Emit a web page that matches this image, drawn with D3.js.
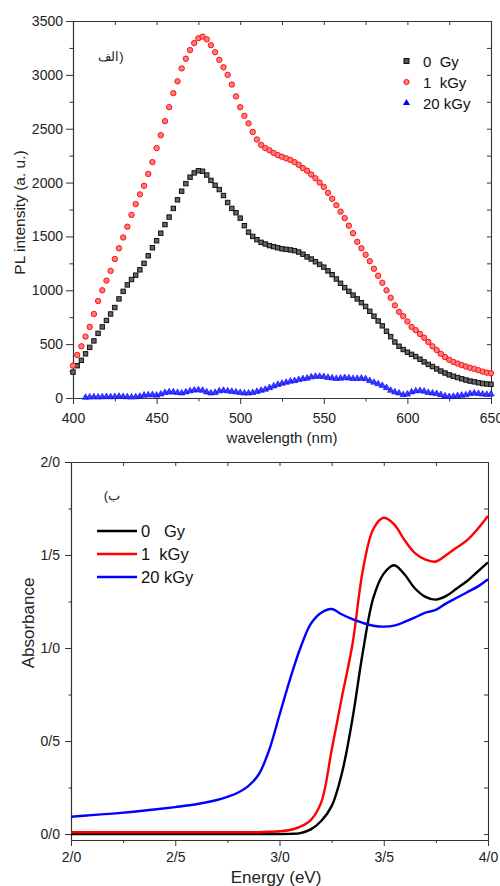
<!DOCTYPE html>
<html><head><meta charset="utf-8">
<script src="https://cdn.jsdelivr.net/npm/d3@7"></script>
<style>
body{margin:0;background:#fff}
text{font-family:Arial,"Liberation Sans",sans-serif}
</style>
</head><body>
<svg id="c" width="500" height="886"></svg>
<script>
// ---------- Chart (a): PL spectra ----------
const wavelengths = d3.range(400, 650.01, 2.5);
const pl0Gy = [
 240,300,350,410,470,530,600,660,720,780,
 840,920,990,1050,1100,1140,1190,1250,1320,1395,
 1460,1530,1610,1680,1760,1840,1920,1990,2050,2090,
 2110,2105,2070,2020,1975,1935,1880,1815,1760,1720,
 1670,1600,1540,1500,1470,1445,1430,1415,1405,1395,
 1385,1380,1375,1368,1355,1335,1310,1290,1265,1240,
 1215,1180,1145,1105,1065,1025,990,955,920,885,
 850,805,760,715,670,620,570,520,480,450,
 425,405,385,360,335,312,292,270,250,232,
 215,202,190,178,167,157,150,142,135,130,
 127];
const pl1kGy = [
 300,400,480,570,660,780,900,1000,1090,1180,
 1290,1390,1490,1590,1700,1800,1890,1970,2080,2190,
 2320,2440,2570,2700,2830,2940,3060,3150,3230,3295,
 3340,3355,3330,3275,3210,3140,3070,3000,2910,2800,
 2700,2620,2550,2470,2400,2350,2320,2300,2275,2255,
 2240,2225,2210,2190,2165,2135,2110,2075,2040,2000,
 1960,1905,1850,1790,1730,1670,1600,1530,1450,1390,
 1330,1270,1200,1135,1070,1000,930,860,800,760,
 710,660,630,595,560,520,480,445,410,380,
 355,335,320,305,292,280,270,258,245,235,
 230];
const pl20kGy = [
 null,null,null,5,8,10,8,10,12,10,
 12,15,12,10,8,10,15,25,28,30,
 25,35,50,55,55,50,45,55,65,72,
 75,70,55,45,50,65,70,65,60,55,
 50,45,45,50,60,70,80,95,110,125,
 135,145,155,160,170,178,183,195,200,200,
 198,190,185,180,183,188,185,180,180,183,
 178,160,145,130,115,95,70,55,45,30,
 35,55,65,68,62,50,45,40,30,18,
 12,15,20,25,28,40,45,40,35,32,
 35];
const plXTicks = [400,450,500,550,600,650];
const plYTicks = [0,500,1000,1500,2000,2500,3000,3500];
const plLegend = ["0  Gy","1  kGy","20 kGy"];

// ---------- Chart (b): absorbance ----------
const energy = [2.0,2.1,2.2,2.3,2.4,2.5,2.6,2.7,2.75,2.8,2.85,2.9,2.95,3.0,3.05,3.1,3.15,3.2,3.25,3.3,3.35,3.4,3.45,3.5,3.55,3.6,3.65,3.7,3.75,3.8,3.85,3.9,3.95,4.0];
const abs0Gy = [0,0,0,0,0,0,0,0,0,0,0,0,0,0,0.001,0.005,0.025,0.07,0.15,0.33,0.62,0.98,1.27,1.40,1.445,1.395,1.32,1.275,1.26,1.28,1.32,1.36,1.41,1.46];
const abs1kGy = [0.01,0.01,0.01,0.01,0.01,0.01,0.01,0.01,0.01,0.01,0.01,0.01,0.012,0.015,0.022,0.04,0.075,0.17,0.45,0.74,1.02,1.42,1.64,1.70,1.665,1.58,1.51,1.475,1.465,1.50,1.54,1.58,1.64,1.71];
const abs20kGy = [0.093,0.102,0.11,0.12,0.132,0.145,0.16,0.183,0.20,0.222,0.258,0.32,0.45,0.64,0.83,1.0,1.13,1.19,1.21,1.18,1.155,1.135,1.12,1.115,1.12,1.14,1.165,1.19,1.205,1.24,1.27,1.30,1.33,1.37];
const absXTicks = [2.0,2.5,3.0,3.5,4.0];
const absXTickLabels = ["2/0","2/5","3/0","3/5","4/0"];
const absYTicks = [0,0.5,1.0,1.5,2.0];
const absYTickLabels = ["0/0","0/5","1/0","1/5","2/0"];
const absLegend = ["0   Gy","1  kGy","20 kGy"];
const absColors = ["#000000","#ff0000","#0000ff"];

const svg = d3.select("#c");
const axisColor = "#333";

function styleAxis(g){
  g.selectAll("path.domain").attr("stroke", axisColor).attr("stroke-width",1.1);
  g.selectAll(".tick line").attr("stroke", axisColor).attr("stroke-width",1);
  g.selectAll(".tick text").attr("fill","#222").attr("font-size","14px")
    .attr("font-family","Arial, 'Liberation Sans', sans-serif");
}

// ===== Chart A =====
(function(){
  const L=73,R=491,T=21,B=398;
  const x = d3.scaleLinear().domain([400,650]).range([L,R]);
  const y = d3.scaleLinear().domain([0,3500]).range([B,T]);
  const g = svg.append("g");
  const fmt = d3.format("d");

  g.append("g").attr("transform",`translate(0,${B})`)
    .call(d3.axisBottom(x).tickValues(d3.range(425,650,50)).tickSize(3.5).tickFormat("").tickSizeOuter(0)).call(styleAxis);
  g.append("g").attr("transform",`translate(${L},0)`)
    .call(d3.axisLeft(y).tickValues(d3.range(250,3500,500)).tickSize(3.5).tickFormat("").tickSizeOuter(0)).call(styleAxis);
  g.append("g").attr("transform",`translate(0,${B})`)
    .call(d3.axisBottom(x).tickValues(plXTicks).tickFormat(fmt).tickSize(6).tickPadding(9).tickSizeOuter(0)).call(styleAxis);
  g.append("g").attr("transform",`translate(${L},0)`)
    .call(d3.axisLeft(y).tickValues(plYTicks).tickFormat(fmt).tickSize(7).tickPadding(3).tickSizeOuter(0)).call(styleAxis);
  g.append("g").attr("transform",`translate(0,${T})`)
    .call(d3.axisTop(x).tickValues(d3.range(400,651,25)).tickSize(-4).tickFormat("").tickSizeOuter(0)).call(styleAxis);
  g.append("g").attr("transform",`translate(${R},0)`)
    .call(d3.axisRight(y).tickValues(d3.range(0,3501,250)).tickSize(-4).tickFormat("").tickSizeOuter(0)).call(styleAxis);

  const pts = (arr)=> wavelengths.map((w,i)=>({w,v:arr[i]})).filter(d=>d.v!=null);

  g.append("g").selectAll("path").data(pts(pl20kGy)).join("path")
    .attr("d", d3.symbol(d3.symbolTriangle, 18))
    .attr("transform", d=>`translate(${x(d.w)},${y(d.v)})`)
    .attr("fill","#3a3aff").attr("stroke","#0000ff").attr("stroke-width",0.6);
  g.append("g").selectAll("rect").data(pts(pl0Gy)).join("rect")
    .attr("x", d=>x(d.w)-2.2).attr("y", d=>y(d.v)-2.2).attr("width",4.4).attr("height",4.4)
    .attr("fill","#666").attr("stroke","#111").attr("stroke-width",1);
  g.append("g").selectAll("circle").data(pts(pl1kGy)).join("circle")
    .attr("cx", d=>x(d.w)).attr("cy", d=>y(d.v)).attr("r",2.7)
    .attr("fill","#ff7a7a").attr("stroke","#ff1010").attr("stroke-width",1);

  const lg = g.append("g");
  const ly = [61,82,103];
  lg.append("rect").attr("x",404).attr("y",ly[0]-2.5).attr("width",5).attr("height",5).attr("fill","#555").attr("stroke","#111");
  lg.append("circle").attr("cx",406.5).attr("cy",ly[1]).attr("r",2.6).attr("fill","#ff8080").attr("stroke","#ff1010");
  lg.append("path").attr("d",d3.symbol(d3.symbolTriangle,22)).attr("transform",`translate(406.5,${ly[2]})`).attr("fill","#0000ff");
  plLegend.forEach((t,i)=>{
    lg.append("text").attr("x",423).attr("y",ly[i]+5.5).attr("font-size","15px")
      .style("white-space","pre").attr("fill","#111").text(t);
  });

  g.append("text").attr("x",111).attr("y",61).attr("text-anchor","middle")
    .attr("font-family","'DejaVu Sans', 'Noto Sans', sans-serif").attr("font-size","13px")
    .attr("fill","#222").text("\u200Eالف)\u200E");

  g.append("text").attr("transform",`translate(25,${(T+B)/2+3}) rotate(-90)`)
    .attr("text-anchor","middle").attr("font-size","15.5px").attr("fill","#222").text("PL intensity (a. u.)");
  g.append("text").attr("x",(L+R)/2).attr("y",443).attr("text-anchor","middle")
    .attr("font-size","15px").attr("fill","#222").text("wavelength (nm)");
})();

// ===== Chart B =====
(function(){
  const L=71,R=488,T=462,B=840;
  const x = d3.scaleLinear().domain([2,4]).range([L,R]);
  const y = d3.scaleLinear().domain([-0.032,2]).range([B,T]);
  const g = svg.append("g");

  g.append("g").attr("transform",`translate(0,${B})`)
    .call(d3.axisBottom(x).tickValues([2.25,2.75,3.25,3.75]).tickSize(3).tickFormat("").tickSizeOuter(0)).call(styleAxis);
  g.append("g").attr("transform",`translate(${L},0)`)
    .call(d3.axisLeft(y).tickValues([0.25,0.75,1.25,1.75]).tickSize(2.5).tickFormat("").tickSizeOuter(0)).call(styleAxis);
  g.append("g").attr("transform",`translate(0,${B})`)
    .call(d3.axisBottom(x).tickValues(absXTicks).tickSize(6).tickPadding(6).tickSizeOuter(0)
      .tickFormat((d,i)=>absXTickLabels[i])).call(styleAxis);
  g.append("g").attr("transform",`translate(${L},0)`)
    .call(d3.axisLeft(y).tickValues(absYTicks).tickSize(6).tickPadding(5).tickSizeOuter(0)
      .tickFormat((d,i)=>absYTickLabels[i])).call(styleAxis);
  g.append("g").attr("transform",`translate(0,${T})`)
    .call(d3.axisTop(x).tickValues(d3.range(2,4.01,0.25)).tickSize(-4).tickFormat("").tickSizeOuter(0)).call(styleAxis);
  g.append("g").attr("transform",`translate(${R},0)`)
    .call(d3.axisRight(y).tickValues(d3.range(0,2.01,0.25)).tickSize(-4).tickFormat("").tickSizeOuter(0)).call(styleAxis);

  const line = d3.line().x((d,i)=>x(energy[i])).y(d=>y(d)).curve(d3.curveCatmullRom.alpha(0.5));
  const series = [abs0Gy, abs1kGy, abs20kGy];
  g.append("g").selectAll("path").data(series).join("path")
    .attr("d", d=>line(d)).attr("fill","none")
    .attr("stroke",(d,i)=>absColors[i]).attr("stroke-width",2.4).attr("stroke-linejoin","round");

  const ly=[531,554,577];
  absLegend.forEach((t,i)=>{
    g.append("line").attr("x1",97).attr("x2",137).attr("y1",ly[i]).attr("y2",ly[i])
      .attr("stroke",absColors[i]).attr("stroke-width",2.4);
    g.append("text").attr("x",141).attr("y",ly[i]+6).attr("font-size","16.5px")
      .style("white-space","pre").attr("fill","#111").text(t);
  });

  g.append("text").attr("x",112).attr("y",500).attr("text-anchor","middle")
    .attr("font-family","'DejaVu Sans', 'Noto Sans', sans-serif").attr("font-size","13px")
    .attr("fill","#222").text("\u200E(ب\u200E");

  g.append("text").attr("transform",`translate(34,623) rotate(-90)`)
    .attr("text-anchor","middle").attr("font-size","17px").attr("fill","#222").text("Absorbance");
  g.append("text").attr("x",276).attr("y",883).attr("text-anchor","middle")
    .attr("font-size","17px").attr("fill","#222").text("Energy (eV)");
})();
</script>
</body></html>
